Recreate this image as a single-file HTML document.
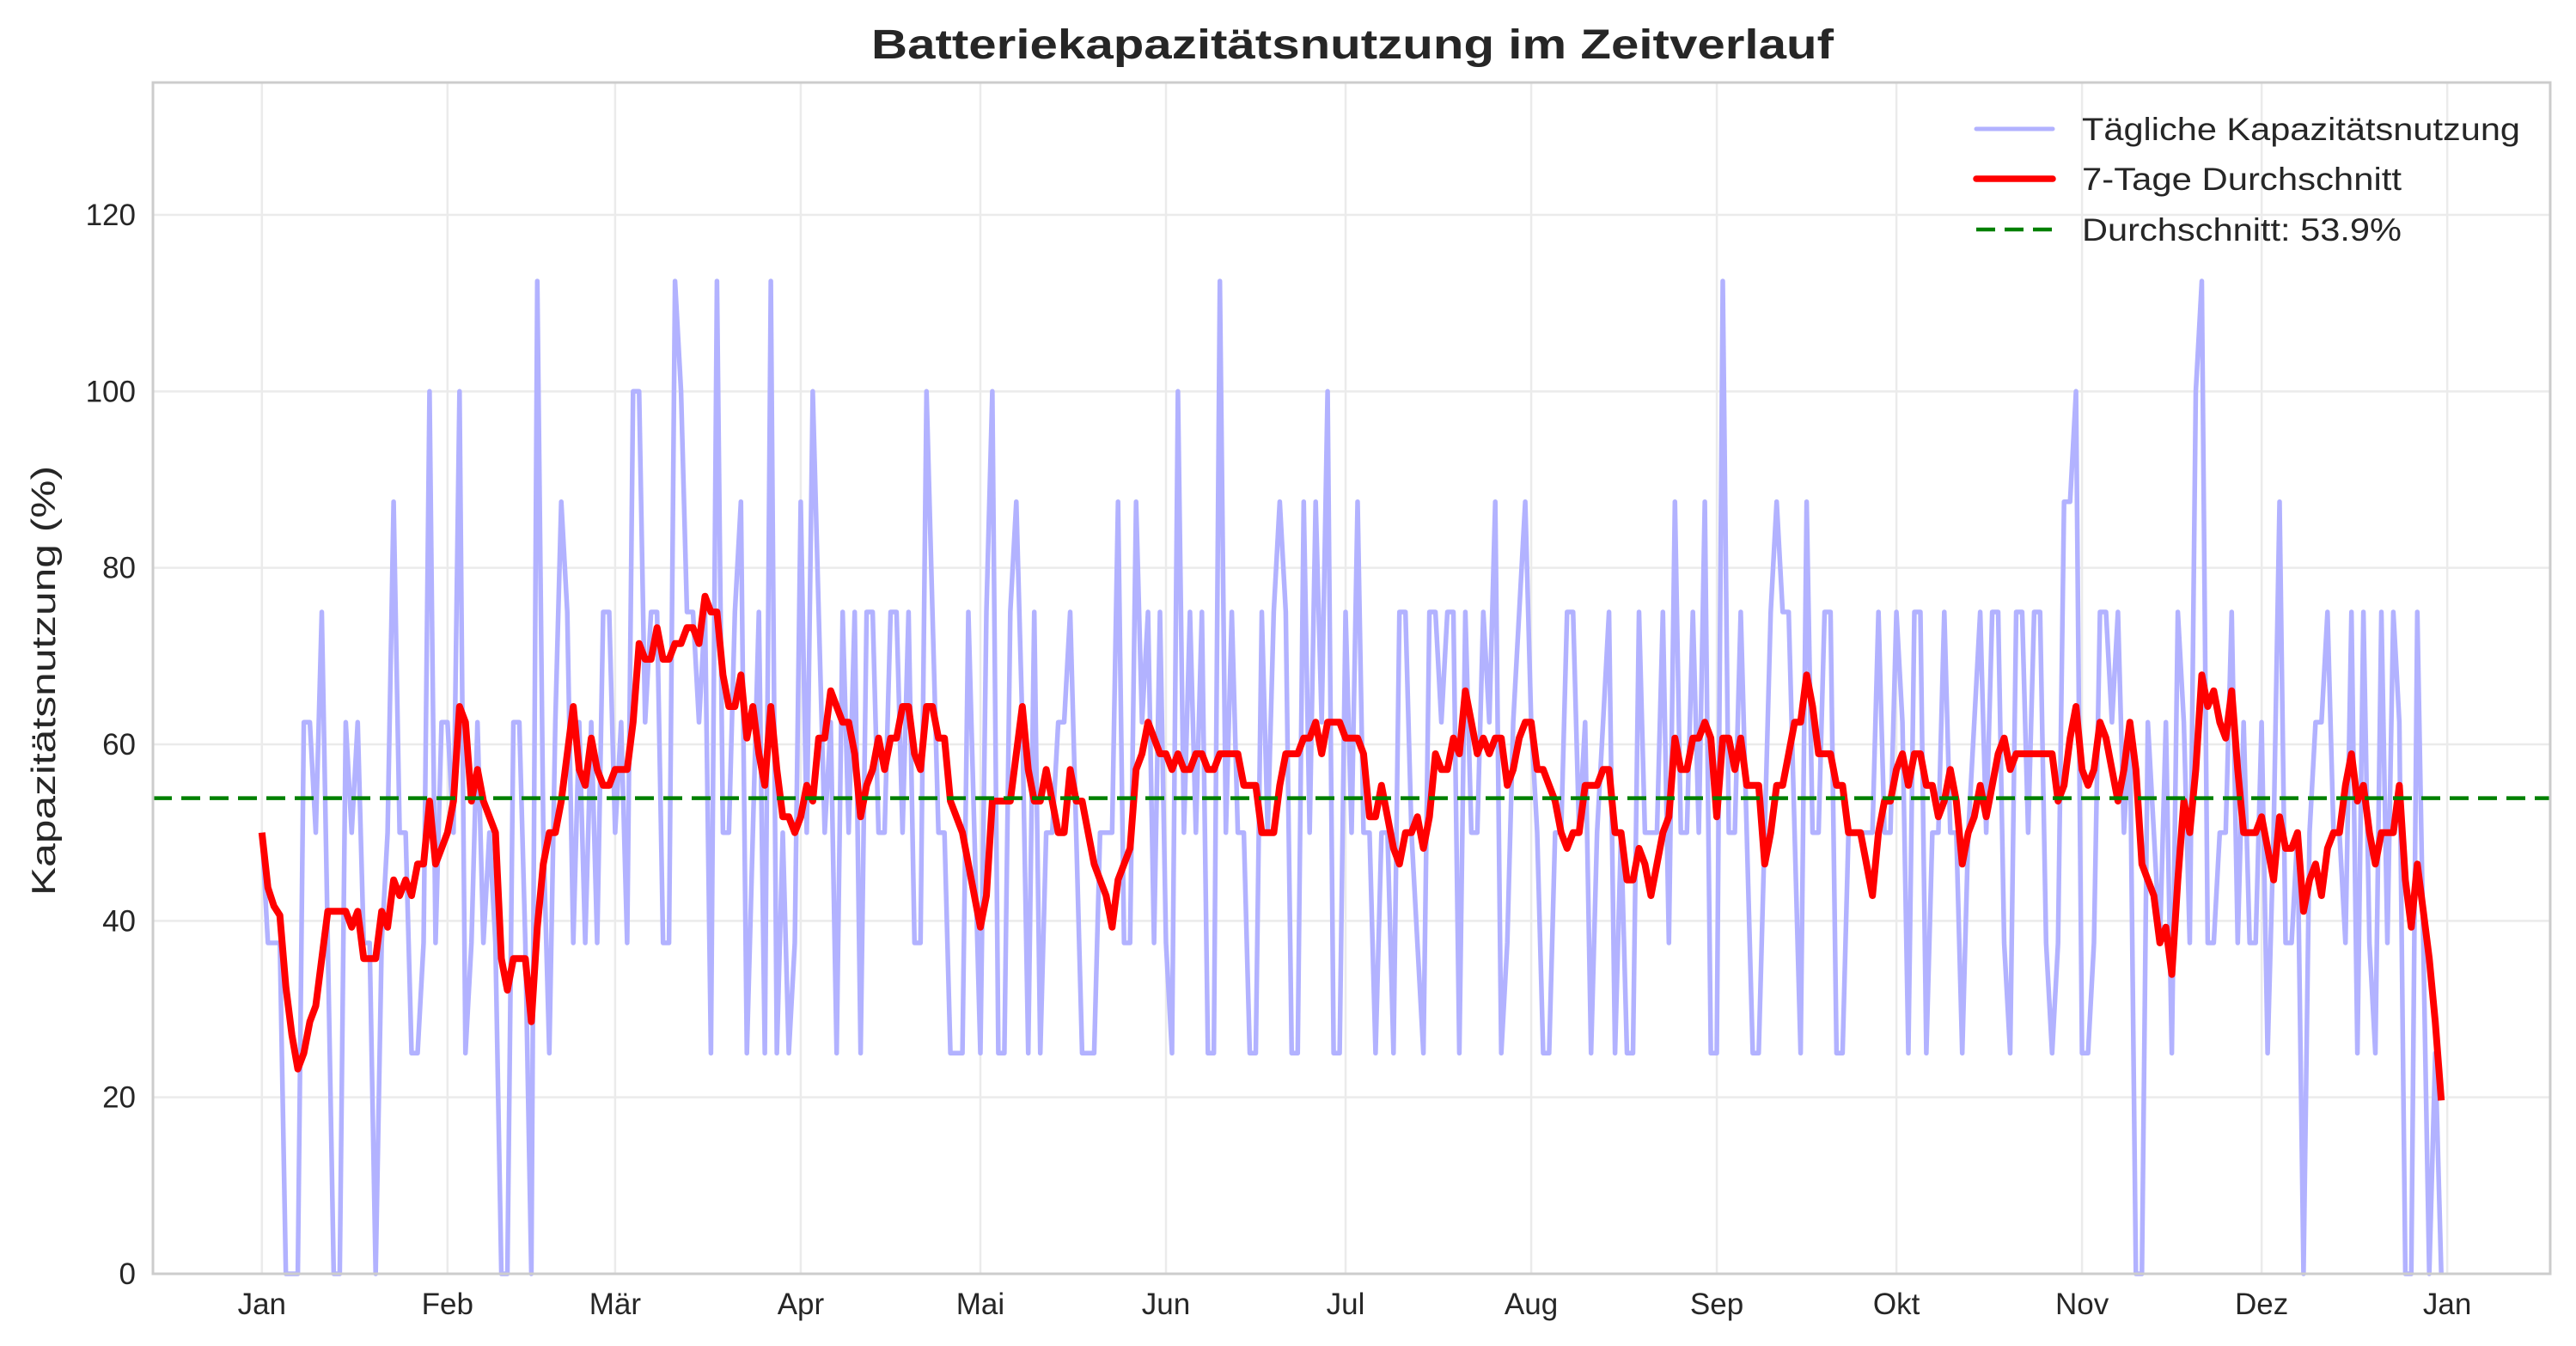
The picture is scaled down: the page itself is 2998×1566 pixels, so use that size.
<!DOCTYPE html>
<html><head><meta charset="utf-8">
<style>
html,body{margin:0;padding:0;background:#fff;}
svg{display:block;font-family:"Liberation Sans",Arial,sans-serif;}
</style></head>
<body>
<svg id="chart" xmlns="http://www.w3.org/2000/svg" width="2998" height="1566" viewBox="0 0 2998 1566">
  <rect x="0" y="0" width="2998" height="1566" fill="#ffffff"/>
  <g id="grid"></g>
  <g id="series"></g>
  <g id="axes"></g>
  <text x="1574" y="68" text-anchor="middle" font-size="48" font-weight="bold" fill="#262626" textLength="1120" lengthAdjust="spacingAndGlyphs">Batteriekapazitätsnutzung im Zeitverlauf</text>
  <text transform="translate(64,792) rotate(-90)" text-anchor="middle" font-size="39" fill="#262626" textLength="500" lengthAdjust="spacingAndGlyphs">Kapazitätsnutzung (%)</text>
  <g id="legend"></g>
</svg>
<script>
const dailyValues = [
50,37.5,37.5,37.5,0,0,0,62.5,62.5,50,75,37.5,0,0,62.5,50,62.5,37.5,37.5,0,
37.5,50,87.5,50,50,25,25,37.5,100,37.5,62.5,62.5,50,100,25,37.5,62.5,37.5,50,37.5,
0,0,62.5,62.5,37.5,0,112.5,50,25,62.5,87.5,75,37.5,62.5,37.5,62.5,37.5,75,75,50,
62.5,37.5,100,100,62.5,75,75,37.5,37.5,112.5,100,75,75,62.5,75,25,112.5,50,50,75,
87.5,25,50,75,25,112.5,25,50,25,37.5,87.5,50,100,75,50,62.5,25,75,50,75,
25,75,75,50,50,75,75,50,75,37.5,37.5,100,75,50,50,25,25,25,75,50,
25,75,100,25,25,75,87.5,62.5,25,75,25,50,50,62.5,62.5,75,50,25,25,25,
50,50,50,87.5,37.5,37.5,87.5,62.5,75,37.5,75,37.5,25,100,50,75,50,75,25,25,
112.5,50,75,50,50,25,25,75,50,75,87.5,75,25,25,87.5,50,87.5,62.5,100,25,
25,75,50,87.5,50,50,25,50,50,25,75,75,50,37.5,25,75,75,62.5,75,75,
25,75,50,50,75,62.5,87.5,25,37.5,62.5,75,87.5,62.5,50,25,25,50,50,75,75,
50,62.5,25,50,62.5,75,25,50,25,25,75,50,50,50,75,37.5,87.5,50,50,75,
50,87.5,25,25,112.5,50,50,75,50,25,25,50,75,87.5,75,75,50,25,87.5,50,
50,75,75,25,25,50,50,50,50,50,75,50,50,75,62.5,25,75,75,25,50,
50,75,50,50,25,50,62.5,75,50,75,75,37.5,25,75,75,50,75,75,37.5,25,
37.5,87.5,87.5,100,25,25,37.5,75,75,62.5,75,50,62.5,0,0,62.5,50,37.5,62.5,25,
75,62.5,37.5,100,112.5,37.5,37.5,50,50,75,37.5,62.5,37.5,37.5,62.5,25,50,87.5,37.5,37.5,
50,0,50,62.5,62.5,75,50,50,37.5,75,25,75,37.5,25,75,37.5,75,62.5,0,0,
75,37.5,0,25,0
];
const overallMean = [53.9];
const monthLabels = ["Jan","Feb","Mär","Apr","Mai","Jun","Jul","Aug","Sep","Okt","Nov","Dez","Jan"];
const monthStartDays = [0,31,59,90,120,151,181,212,243,273,304,334,365];
const yTickValues = [0,20,40,60,80,100,120];
const legendLabels = ["Tägliche Kapazitätsnutzung","7-Tage Durchschnitt","Durchschnitt: 53.9%"];

const NS = "http://www.w3.org/2000/svg";
const L = 178, R = 2968, T = 96, B = 1482;
const nDays = dailyValues.length;
const xMin = -0.05 * (nDays - 1), xMax = (nDays - 1) * 1.05;
const yMin = 0, yMax = 135;
function xs(d){ return L + (d - xMin) / (xMax - xMin) * (R - L); }
function ys(v){ return B - (v - yMin) / (yMax - yMin) * (B - T); }
function mk(tag, attrs, parent){
  const e = document.createElementNS(NS, tag);
  for (const k in attrs) e.setAttribute(k, attrs[k]);
  parent.appendChild(e);
  return e;
}
const grid = document.getElementById('grid');
const series = document.getElementById('series');
const axes = document.getElementById('axes');
const legend = document.getElementById('legend');

yTickValues.forEach(v => {
  const g = mk('line', {x1:L, x2:R, y1:ys(v), y2:ys(v), stroke:'#ebebeb', 'stroke-width':2.5}, grid);
  
  
  const t = mk('text', {x:L-20, y:ys(v)+12, 'text-anchor':'end', 'font-size':35, fill:'#262626'}, axes);
  t.textContent = String(v);
  
  
});
monthStartDays.forEach((d, i) => {
  const g = mk('line', {x1:xs(d), x2:xs(d), y1:T, y2:B, stroke:'#ebebeb', 'stroke-width':2.5}, grid);
  
  
  const t = mk('text', {x:xs(d), y:1529, 'text-anchor':'middle', 'font-size':35, fill:'#262626'}, axes);
  t.textContent = monthLabels[i];
  
  
});
const frame = mk('rect', {x:L, y:T, width:R-L, height:B-T, fill:'none', stroke:'#cccccc', 'stroke-width':3}, axes);



const dailyPts = dailyValues.map((v, i) => xs(i).toFixed(1) + ',' + ys(v).toFixed(1)).join(' ');
const daily = mk('polyline', {points:dailyPts, fill:'none', stroke:'#b2b2ff', 'stroke-width':5.5, 'stroke-linejoin':'round'}, series);



const rolling = dailyValues.map((v, i) => {
  const s = Math.max(0, i - 6);
  const w = dailyValues.slice(s, i + 1);
  return w.reduce((a, b) => a + b, 0) / w.length;
});
const rollPts = rolling.map((v, i) => xs(i).toFixed(1) + ',' + ys(v).toFixed(1)).join(' ');
const roll = mk('polyline', {points:rollPts, fill:'none', stroke:'#ff0000', 'stroke-width':8, 'stroke-linejoin':'round'}, series);



const meanLine = mk('line', {x1:L, x2:R, y1:ys(overallMean[0]), y2:ys(overallMean[0]), stroke:'#008000', 'stroke-width':4.5, 'stroke-dasharray':'22,11'}, series);



const legY = [150, 208, 267];
const legStyles = [
  {stroke:'#b2b2ff', w:5, dash:''},
  {stroke:'#ff0000', w:7.5, dash:''},
  {stroke:'#008000', w:4.5, dash:'22,11'}
];
const legLens = [510, 372, 372];
legendLabels.forEach((lab, i) => {
  const st = legStyles[i];
  const ln = mk('line', {x1:2300, x2:2389, y1:legY[i], y2:legY[i], stroke:st.stroke, 'stroke-width':st.w, 'stroke-linecap': st.dash ? 'butt' : 'round'}, legend);
  if (st.dash) ln.setAttribute('stroke-dasharray', st.dash);
  
  
  const t = mk('text', {x:2423, y:legY[i]+13, 'font-size':37, fill:'#262626', textLength:legLens[i], lengthAdjust:'spacingAndGlyphs'}, legend);
  t.textContent = lab;
  
  
});
</script>
</body></html>
